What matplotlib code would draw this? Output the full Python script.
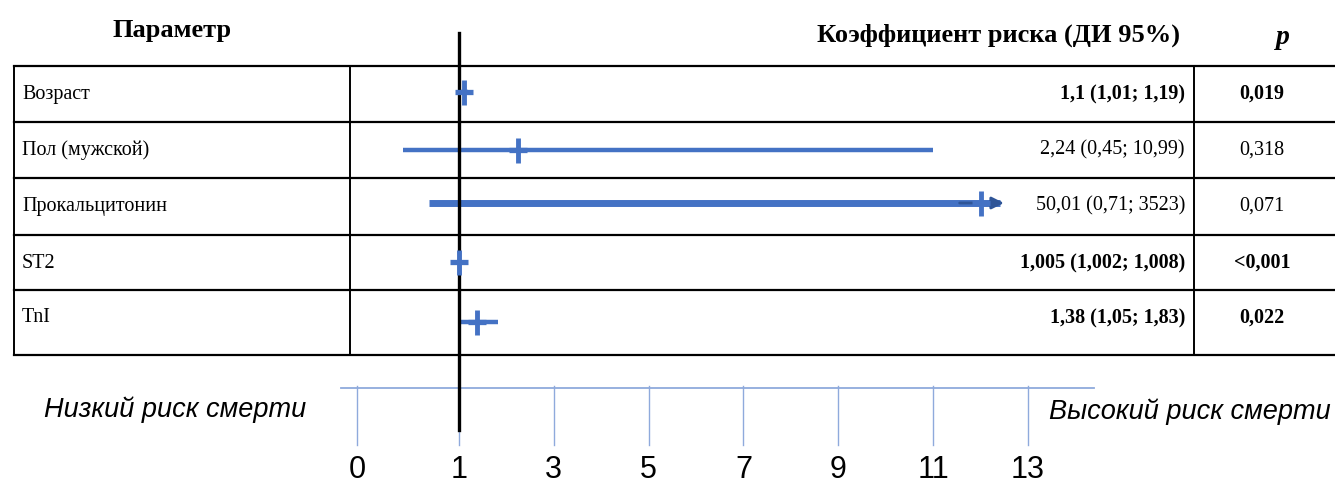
import numpy as np
import matplotlib.pyplot as plt

# hazard ratios from the multivariate model
params = ["Возраст", "Пол (мужской)", "Прокальцитонин", "ST2", "TnI"]
hr = [1.1, 2.24, 50.01, 1.005, 1.38]
ci_lo = [1.01, 0.45, 0.71, 1.002, 1.05]
ci_hi = [1.19, 10.99, 3523, 1.008, 1.83]
p_vals = ["0,019", "0,318", "0,071", "<0,001", "0,022"]
significant = [True, False, False, True, True]

ticks = [0, 1, 3, 5, 7, 9, 11, 13]

BLUE = "#4472C4"
AXBLUE = "#8FAADC"
SERIF = "Liberation Serif"

# 0..1 gets a wider stretch than the rest of the axis
K = 2.15
def fwd(x):
    x = np.asarray(x, dtype=float)
    return np.where(x < 1, K * x, K + (x - 1))
def inv(y):
    y = np.asarray(y, dtype=float)
    return np.where(y < K, y / K, y - K + 1)

def fmt(v):
    return f"{v:g}".replace(".", ",")

W, H = 1335, 492
fig = plt.figure(figsize=(W / 100, H / 100), dpi=100)

# table frame and text, in pixel coordinates
tab = fig.add_axes([0, 0, 1, 1])
tab.set_xlim(0, W)
tab.set_ylim(H, 0)
tab.axis("off")

row_edges = [66, 122, 178, 235, 290, 355]
for y in row_edges:
    tab.plot([14, W], [y, y], color="black", lw=1.6)
for x in [14, 350, 1194]:
    tab.plot([x, x], [row_edges[0], row_edges[-1]], color="black", lw=1.4)

tab.text(172, 30, "Параметр", family=SERIF, weight="bold", fontsize=19,
         ha="center", va="center")
tab.text(1180, 35, "Коэффициент риска (ДИ 95%)", family=SERIF, weight="bold",
         fontsize=19, ha="right", va="center")
tab.text(1283, 37, "p", family=SERIF, weight="bold", style="italic",
         fontsize=20, ha="center", va="center")

for i, name in enumerate(params):
    yt = row_edges[i] + 28
    w = "bold" if significant[i] else "normal"
    tab.text(22, yt, name, family=SERIF, fontsize=14.5, ha="left", va="center")
    label = f"{fmt(hr[i])} ({fmt(ci_lo[i])}; {fmt(ci_hi[i])})"
    tab.text(1185, yt, label, family=SERIF, fontsize=14.5, weight=w,
             ha="right", va="center")
    tab.text(1262, yt, p_vals[i], family=SERIF, fontsize=14.5, weight=w,
             ha="center", va="center")

tab.text(175, 410, "Низкий риск смерти", family="Liberation Sans",
         style="italic", fontsize=19.5, ha="center", va="center")
tab.text(1190, 412, "Высокий риск смерти", family="Liberation Sans",
         style="italic", fontsize=19.5, ha="center", va="center")

# forest plot axes: x is the hazard ratio, y shares the pixel rows
ax = fig.add_axes([357 / W, 0, 671 / W, 1])
ax.set_xscale("function", functions=(fwd, inv))
ax.set_xlim(0, 13)
ax.set_ylim(H, 0)
ax.axis("off")
ax.patch.set_alpha(0)

row_y = [92, 150, 203, 262, 322]
cap_hi = 12.4   # right end of drawn intervals
cap_est = 12.0  # estimates beyond the axis are pinned here

# reference line at HR = 1
ax.plot([1, 1], [33, 430], color="black", lw=2.4, clip_on=False, zorder=5)

for i in range(len(params)):
    y = row_y[i]
    lo = ci_lo[i]
    hi = min(ci_hi[i], cap_hi)
    est = min(hr[i], cap_est)
    open_ended = ci_hi[i] > cap_hi
    ax.plot([lo, hi], [y, y], color=BLUE, lw=5 if open_ended else 3.2,
            solid_capstyle="butt", clip_on=False, zorder=3)
    if open_ended:
        ax.annotate("", xy=(hi + 0.15, y), xytext=(hi - 0.9, y),
                    arrowprops=dict(arrowstyle="-|>", color="#2F5597",
                                    lw=2.0, mutation_scale=18),
                    annotation_clip=False, zorder=4)
    ax.plot([est], [y], marker="|", ms=18, mew=3.5, color=BLUE,
            clip_on=False, zorder=6)
    ax.plot([est], [y], marker="_", ms=13, mew=3.8, color=BLUE,
            clip_on=False, zorder=6)

# hand-made axis below the table
ax.plot([-0.16, 14.4], [388, 388], color=AXBLUE, lw=1.3, clip_on=False)
for t in ticks:
    ax.plot([t, t], [386, 445], color=AXBLUE, lw=1, clip_on=False)
    ax.text(t, 470, str(t), family=["Liberation Sans Narrow", "Liberation Sans"],
            fontsize=22, ha="center", va="center", clip_on=False)

fig.savefig("out.png", dpi=100)
